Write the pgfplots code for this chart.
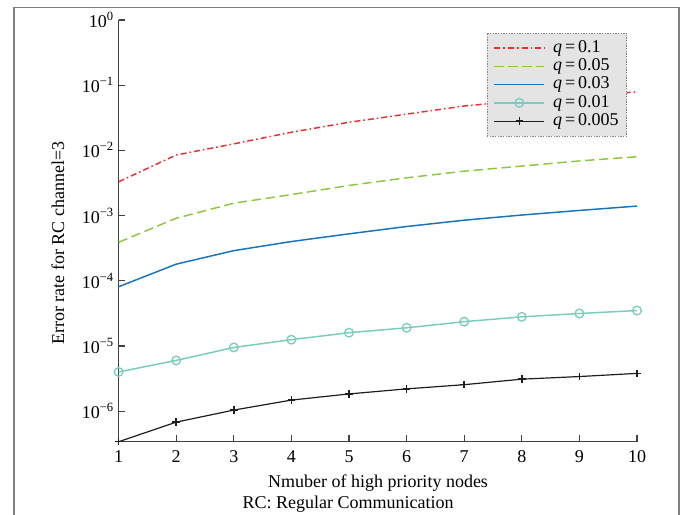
\documentclass[border=0pt]{standalone}
\usepackage{fontspec}
\setmainfont{Liberation Serif}
\usepackage{pgfplots}
\pgfplotsset{compat=1.18}

\definecolor{cRed}{RGB}{235,45,50}
\definecolor{cGreen}{RGB}{141,198,63}
\definecolor{cBlue}{RGB}{22,115,190}
\definecolor{cCyan}{RGB}{120,205,190}
\definecolor{cBlack}{RGB}{30,30,30}
\definecolor{legfill}{RGB}{228,228,229}
\newcommand\fs{\fontsize{13.5}{16}\selectfont}
\newcommand\qeq[1]{\textit{q}\thinspace=\thinspace#1}

\begin{document}
\begin{tikzpicture}
% page = 681 x 514 px at 0.75pt per px
\useasboundingbox (0,0) rectangle (510.75pt,385.5pt);
\begin{scope}
  \clip (0,0) rectangle (510.75pt,385.5pt);
  \draw[gray, line width=1.1pt] (10.5pt,-5pt) -- (10.5pt,380pt) -- (509.25pt,380pt) -- (509.25pt,-5pt);
\end{scope}

\begin{axis}[
    at={(88.95pt,54.2pt)}, anchor=south west,
    scale only axis,
    width=388.8pt, height=316.3pt,
    xmin=1, xmax=10,
    ymode=log, ymin=3.4e-7, ymax=1,
    axis lines=left,
    axis line style={-, black!75, line width=0.9pt},
    tick align=inside,
    major tick length=5pt,
    tick style={black!75, line width=0.8pt},
    xtick={1,2,3,4,5,6,7,8,9,10},
    xticklabels={1,2,3,4,5,6,7,8,9,10},
    ytick={1e-6,1e-5,1e-4,1e-3,1e-2,1e-1,1},
    yticklabels={10\textsuperscript{−6},10\textsuperscript{−5},10\textsuperscript{−4},10\textsuperscript{−3},10\textsuperscript{−2},10\textsuperscript{−1},10\textsuperscript{0}},
    yminorticks=false,
    ticklabel style={font=\fs},
    xticklabel style={yshift=-3pt},
    clip=false,
    legend style={
        at={(0.710,0.970)}, anchor=north west,
        fill=legfill, draw=gray, dash pattern=on 1pt off 1pt,
        font=\fs, inner xsep=5pt, inner ysep=4.5pt,
        nodes={inner sep=1pt, text height=9pt, text depth=2.7pt},
        cells={anchor=west},
        column sep=5pt
    },
    legend image code/.code={
        \draw[mark repeat=2, mark phase=2] plot coordinates {(0pt,0pt) (18.75pt,0pt) (37.5pt,0pt)};
    },
]

% q = 0.1
\addplot[color=cRed, draw=cRed, line width=1.1pt, dash pattern=on 4.5pt off 2.25pt on 1.2pt off 2.25pt] coordinates {
    (1,3.3e-3) (2,8.5e-3) (3,1.26e-2) (4,1.9e-2) (5,2.7e-2)
    (6,3.6e-2) (7,4.8e-2) (8,5.8e-2) (9,6.8e-2) (10,7.9e-2)
};
\addlegendentry{\qeq{0.1}}

% q = 0.05
\addplot[color=cGreen, draw=cGreen, line width=1.1pt, dash pattern=on 7pt off 3.5pt] coordinates {
    (1,3.9e-4) (2,9.1e-4) (3,1.55e-3) (4,2.1e-3) (5,2.9e-3)
    (6,3.8e-3) (7,4.8e-3) (8,5.75e-3) (9,6.9e-3) (10,8.0e-3)
};
\addlegendentry{\qeq{0.05}}

% q = 0.03
\addplot[color=cBlue, draw=cBlue, line width=1.1pt, solid] coordinates {
    (1,8.1e-5) (2,1.8e-4) (3,2.9e-4) (4,4.0e-4) (5,5.25e-4)
    (6,6.8e-4) (7,8.5e-4) (8,1.02e-3) (9,1.2e-3) (10,1.4e-3)
};
\addlegendentry{\qeq{0.03}}

% q = 0.01
\addplot[color=cCyan, draw=cCyan, line width=1.1pt, solid, mark=o, mark size=3.25pt,
         mark options={solid, draw=cCyan, line width=1pt}] coordinates {
    (1,4.0e-6) (2,6.0e-6) (3,9.5e-6) (4,1.25e-5) (5,1.6e-5)
    (6,1.9e-5) (7,2.36e-5) (8,2.8e-5) (9,3.15e-5) (10,3.5e-5)
};
\addlegendentry{\qeq{0.01}}

% q = 0.005
\addplot[color=cBlack, draw=cBlack, line width=0.9pt, solid, mark=+, mark size=2.8pt,
         mark options={solid, draw=cBlack, line width=1.1pt}] coordinates {
    (1,3.4e-7) (2,6.8e-7) (3,1.04e-6) (4,1.48e-6) (5,1.84e-6)
    (6,2.2e-6) (7,2.55e-6) (8,3.1e-6) (9,3.4e-6) (10,3.8e-6)
};
\addlegendentry{\qeq{0.005}}

\end{axis}

\node[rotate=90, anchor=base, font=\fs] at (48pt,203.25pt) {Error rate for RC channel=3};
\node[anchor=base, font=\fs] at (283.5pt,20.25pt) {Nmuber of high priority nodes};
\node[anchor=base, font=\fs] at (261pt,4.5pt) {RC: Regular Communication};
\end{tikzpicture}
\end{document}
